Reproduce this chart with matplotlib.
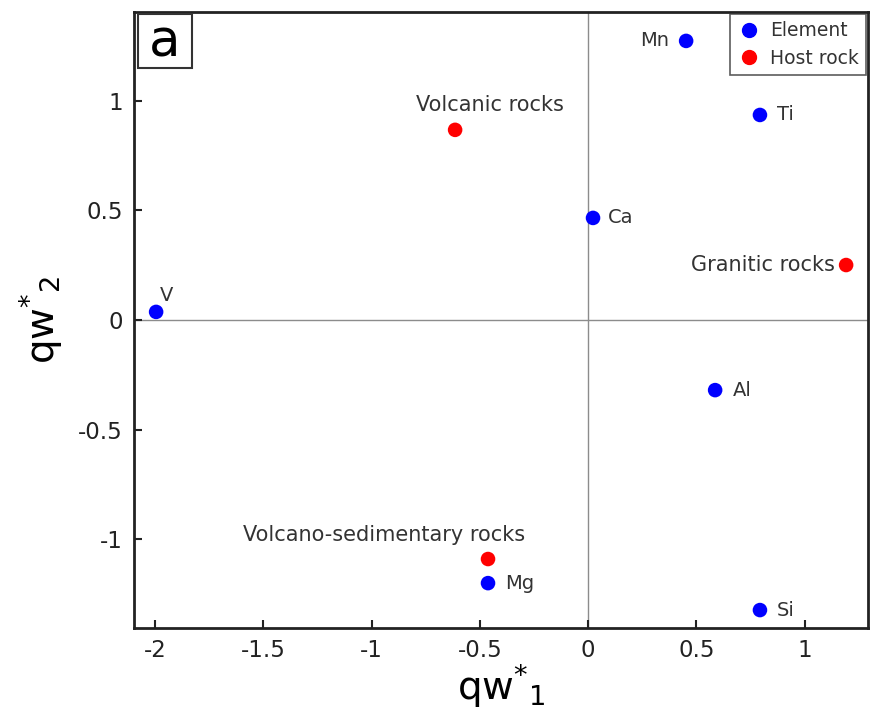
import matplotlib
matplotlib.use("Agg")
import matplotlib.pyplot as plt
from matplotlib.lines import Line2D
from matplotlib.patches import Rectangle

plt.rcParams['font.family'] = ['DejaVu Sans']
plt.rcParams['mathtext.default'] = 'regular'

# element scores
elements = ['Mn', 'Ti', 'Ca', 'V', 'Al', 'Mg', 'Si']
el_x = [0.453, 0.794, 0.023, -1.995, 0.587, -0.462, 0.794]
el_y = [1.274, 0.936, 0.466, 0.037, -0.320, -1.201, -1.324]

# host rock scores
rocks = ['Volcanic rocks', 'Granitic rocks', 'Volcano-sedimentary rocks']
rock_x = [-0.614, 1.192, -0.462]
rock_y = [0.868, 0.251, -1.091]

x_ticks = [-2, -1.5, -1, -0.5, 0, 0.5, 1]
y_ticks = [-1, -0.5, 0, 0.5, 1]

# label offsets (points) and alignment
el_offsets = {'Mn': (-12, 0, 'right', 'center'), 'Ti': (12, 0, 'left', 'center'),
              'Ca': (11, 0, 'left', 'center'), 'V': (3, 5, 'left', 'bottom'),
              'Al': (13, 0, 'left', 'center'), 'Mg': (12, 0, 'left', 'center'),
              'Si': (12, 0, 'left', 'center')}
rock_offsets = {'Volcanic rocks': (25, 11, 'center', 'bottom'),
                'Granitic rocks': (-8, 0, 'right', 'center'),
                'Volcano-sedimentary rocks': (27, 10, 'right', 'bottom')}

fig = plt.figure(figsize=(8.72, 7.18), dpi=100)
ax = fig.add_axes([0.1537, 0.1253, 0.9954 - 0.1537, 0.9833 - 0.1253])

ax.axhline(0, color='#8c8c8c', lw=1.0, zorder=1)
ax.axvline(0, color='#8c8c8c', lw=1.0, zorder=1)

ax.scatter(el_x, el_y, s=110, color='#0000ff', zorder=3, edgecolors='none')
ax.scatter(rock_x, rock_y, s=110, color='#ff0000', zorder=3, edgecolors='none')

for name, x, y in zip(elements, el_x, el_y):
    dx, dy, ha, va = el_offsets[name]
    ax.annotate(name, (x, y), xytext=(dx, dy), textcoords='offset points',
                ha=ha, va=va, fontsize=14, color='#333333')
for name, x, y in zip(rocks, rock_x, rock_y):
    dx, dy, ha, va = rock_offsets[name]
    ax.annotate(name, (x, y), xytext=(dx, dy), textcoords='offset points',
                ha=ha, va=va, fontsize=15, color='#333333')

ax.set_xlim(-2.097, 1.293)
ax.set_ylim(-1.406, 1.406)
ax.set_xticks(x_ticks)
ax.set_xticklabels([f'{t:g}' for t in x_ticks])
ax.set_yticks(y_ticks)
ax.set_yticklabels([f'{t:g}' for t in y_ticks])
ax.tick_params(direction='in', length=6, width=1.5, labelsize=16.5, colors='#222222', pad=8)

for s in ax.spines.values():
    s.set_linewidth(2)
    s.set_color('#222222')

ax.set_xlabel('qw$^{*}$$_{1}$', fontsize=28, labelpad=0)
ax.set_ylabel('qw$^{*}$$_{2}$', fontsize=28, labelpad=10)

handles = [Line2D([], [], marker='o', ls='none', color='#0000ff', markersize=10),
           Line2D([], [], marker='o', ls='none', color='#ff0000', markersize=10)]
leg = ax.legend(handles, ['Element', 'Host rock'], loc='upper right', fontsize=13.5,
                frameon=True, fancybox=False, edgecolor='#333333', handletextpad=0.5,
                borderaxespad=0.1, handlelength=1.2, borderpad=0.4, labelspacing=0.45)
leg.get_frame().set_linewidth(1.2)
for t in leg.get_texts():
    t.set_color('#333333')

# panel letter box
ax.add_patch(Rectangle((0.0054, 0.909), 0.0736, 0.088, transform=ax.transAxes,
                       fc='white', ec='#333333', lw=1.5, zorder=4))
ax.text(0.0422, 0.951, 'a', transform=ax.transAxes, fontsize=37, ha='center', va='center',
        zorder=5)

fig.savefig('out.png', dpi=100)
